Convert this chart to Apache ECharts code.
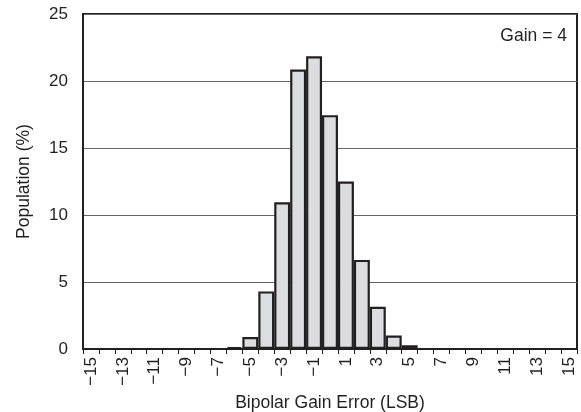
<!DOCTYPE html>
<html>
<head>
<meta charset="utf-8">
<style>
  html, body { margin: 0; padding: 0; background: #fff; }
  #main { width: 581px; height: 412px; }
</style>
<script src="https://cdn.jsdelivr.net/npm/echarts@6/dist/echarts.min.js"></script>
</head>
<body>
<div id="main"></div>
<script>
// categories -15 .. 15 (LSB)
var categories = [-15, -14, -13, -12, -11, -10, -9, -8, -7, -6, -5, -4, -3, -2, -1,
  0, 1, 2, 3, 4, 5, 6, 7, 8, 9, 10, 11, 12, 13, 14, 15];
// population (%) per bin
var population = [0, 0, 0, 0, 0, 0, 0, 0, 0, 0.15, 0.9, 4.3, 10.95, 20.85, 21.85,
  17.45, 12.5, 6.65, 3.15, 1.0, 0.28, 0, 0, 0, 0, 0, 0, 0, 0, 0, 0];
var yTicks = [0, 5, 10, 15, 20, 25];

var myChart = echarts.init(document.getElementById('main'));
var font = 'Liberation Sans, Arial, sans-serif';
var ink = '#231f20';

var option = {
  animation: false,
  textStyle: { fontFamily: font },
  title: {
    text: 'Gain = 4',
    right: 9,
    top: 22,
    textStyle: { fontSize: 17.5, fontWeight: 'normal', color: ink, fontFamily: font }
  },
  grid: {
    left: 83, right: 4, top: 14, bottom: 63,
    containLabel: false,
    outerBoundsMode: 'none',
    show: true,
    borderColor: ink,
    borderWidth: 2
  },
  xAxis: {
    type: 'category',
    data: categories,
    name: 'Bipolar Gain Error (LSB)',
    nameLocation: 'middle',
    nameGap: 42,
    nameTextStyle: { fontSize: 17.5, color: ink, fontFamily: font },
    axisLine: { lineStyle: { color: ink, width: 2 } },
    axisTick: { show: true, interval: 0, length: 5, lineStyle: { color: ink, width: 1 } },
    axisLabel: {
      interval: 1,
      rotate: 90,
      fontSize: 17,
      color: ink,
      margin: 8,
      formatter: function(v) {
        return String(v).replace('-', '\u2212');
      }
    },
    splitLine: { show: false }
  },
  yAxis: {
    type: 'value',
    min: 0,
    max: 25,
    interval: 5,
    name: 'Population (%)',
    nameLocation: 'middle',
    nameGap: 50,
    nameTextStyle: { fontSize: 17.5, color: ink, fontFamily: font },
    axisLine: { show: true, lineStyle: { color: ink, width: 2 } },
    axisTick: { show: false },
    axisLabel: {
      fontSize: 17,
      color: ink,
      margin: 15,
      formatter: function(v) {
        return yTicks.indexOf(v) >= 0 ? String(v) : '';
      }
    },
    splitLine: { show: true, lineStyle: { color: '#666', width: 1 } }
  },
  series: [{
    type: 'bar',
    data: population,
    barCategoryGap: '0%',
    itemStyle: {
      color: '#dcdddf',
      borderColor: ink,
      borderWidth: 2.2
    }
  }]
};
myChart.setOption(option);
</script>
</body>
</html>
